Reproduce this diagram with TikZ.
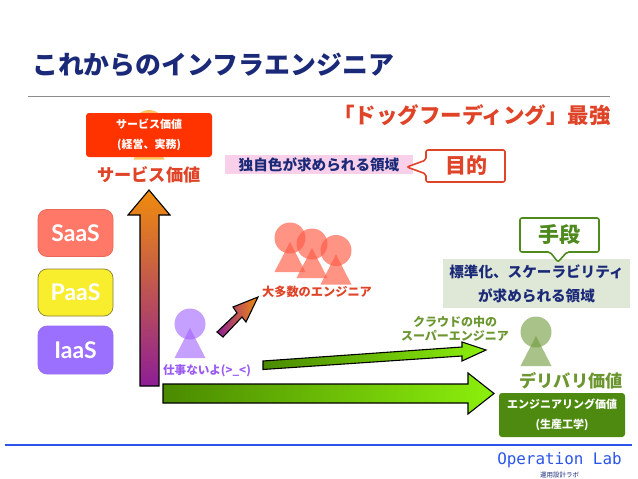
\documentclass[tikz,border=0pt]{standalone}
\usepackage{fontspec}
\setmainfont{Noto Sans CJK JP}
\newfontfamily\gillfont{Lato}
\setmonofont{DejaVu Sans Mono}
\usetikzlibrary{calc,positioning}
\definecolor{navytext}{HTML}{1B2A78}
\definecolor{redtext}{HTML}{DF4428}
\definecolor{greentext}{HTML}{6C9630}
\definecolor{opblue}{HTML}{2B55E8}
\definecolor{callgreen}{HTML}{4F8A1E}
\definecolor{darkgreen}{HTML}{4A8A00}
\definecolor{lightgreen}{HTML}{8CF00C}
\definecolor{arroworange}{HTML}{F08C0C}
\definecolor{arrowpurple}{HTML}{8E1E96}
\definecolor{purpletext}{HTML}{9A5CF0}
\definecolor{oneorange}{HTML}{FFB030}
\definecolor{onepurple}{HTML}{A060FF}
\definecolor{onered}{HTML}{FF5A44}
\definecolor{onegreen}{HTML}{6F9A3A}
\definecolor{saasfill}{HTML}{FF7868}
\definecolor{saasline}{HTML}{E8695A}
\definecolor{paasfill}{HTML}{F8EE2E}
\definecolor{paasline}{HTML}{8A8030}
\definecolor{iaasfill}{HTML}{9C70FF}
\definecolor{iaasline}{HTML}{966EF5}
\definecolor{servicered}{HTML}{FF3300}
\definecolor{delivergreen}{HTML}{4F8A10}
\definecolor{ownpink}{HTML}{F8D0EA}
\definecolor{stdgray}{HTML}{DFE8D6}
\newcommand{\fsz}[2]{\fontsize{#1}{#2}\selectfont}
\begin{document}
\begin{tikzpicture}[x=1pt,y=-1pt,
 layer box/.style={line width=.7pt,rounded corners=9pt,minimum width=75pt,minimum height=47pt,text=white,font=\gillfont\bfseries\fsz{23}{24}},
 value box/.style={rounded corners=3pt,fill=#1,text=white,align=center,inner sep=0pt,font=\bfseries\fsz{11}{20}},
 area box/.style={fill=#1,inner sep=0pt,text=navytext,align=center,font=\bfseries\fsz{14.6}{24}},
 call line/.style={draw=#1,fill=white,line width=1.6pt,rounded corners=2pt},
 block arrow/.style={draw=black,line width=1.1pt,line join=miter},
 tag/.style={inner sep=0pt,align=center,font=\bfseries\fsz{#1}{14}}]
    \useasboundingbox (0,0) rectangle (638,479);
    % title and rules
    \node (title) [anchor=west,inner sep=0pt,text=navytext,font=\bfseries\fsz{25.9}{28}] at (32,65) {これからのインフラエンジニア};
    \draw [black!45,line width=.8pt] (28,96.5) -- (610,96.5);
    \draw [opblue,line width=1.2pt] (5,445) -- (632,445);
    \node (dogfood) [inner sep=0pt,text=redtext,font=\bfseries\fsz{21.5}{24}] at (472,115) {「ドッグフーディング」最強};
    % people: circle + triangle
    \foreach \cx/\cy/\cor/\alfa in {149/125.5/oneorange/.75, 190/324/onepurple/.6, 290/238/onered/.65, 312/244/onered/.65, 336/250.5/onered/.65, 536/332/onegreen/.6} {
      \fill [\cor,opacity=\alfa] (\cx,\cy) circle (15.5);
      \fill [\cor,opacity=\alfa] (\cx,\cy+4) -- (\cx+15.5,\cy+34) -- (\cx-15.5,\cy+34) -- cycle;
    }
    % layers
    \node (saas) [layer box,draw=saasline,fill=saasfill] at (75.5,233) {SaaS};
    \node (paas) [layer box,draw=paasline,fill=paasfill] at (75.5,292.5) {PaaS};
    \node (iaas) [layer box,draw=iaasline,fill=iaasfill,minimum height=48pt] at (75.5,350) {IaaS};
    % values
    \node (servicebox) [value box=servicered,minimum width=126pt,minimum height=44pt] at (149,135) {サービス価値\\(経営、実務)};
    \node (servicetxt) [tag=17.2,text=redtext] at (149,175) {サービス価値};
    \node (delivertxt) [tag=17.2,text=greentext] at (571,381) {デリバリ価値};
    \node (deliverbox) [value box=delivergreen,minimum width=126pt,minimum height=44pt] at (562,415) {エンジニアリング価値\\(生産工学)};
    % areas
    \node (ownarea) [area box=ownpink,minimum width=188pt,minimum height=19pt] at (319,164.5) {独自色が求められる領域};
    \node (stdarea) [area box=stdgray,minimum width=187pt,minimum height=49pt] at (536.5,283.5) {標準化、スケーラビリティ\\が求められる領域};
    % callouts
    \draw [call line=redtext] (426,150) -- (505,150) -- (505,182) -- (426,182) -- (426,174) -- (407,167) -- (426,160) -- cycle;
    \node (goal) [tag=21,text=redtext] at (466,166) {目的};
    \draw [call line=callgreen] (520,218) -- (599,218) -- (599,252) -- (567,252) -- (558,262) -- (550,252) -- (520,252) -- cycle;
    \node (means) [tag=21,text=callgreen] at (559,235) {手段};
    % block arrows
    \draw [block arrow,top color=arroworange,bottom color=arrowpurple] (140,386) -- (140,215) -- (128,215) -- (149,190) -- (170,215) -- (159,215) -- (159,386) -- cycle;
    \draw [block arrow,left color=darkgreen,right color=lightgreen] (163,384) -- (468,384) -- (468,373) -- (494,393.5) -- (468,414) -- (468,403) -- (163,403) -- cycle;
    \draw [block arrow,left color=darkgreen,right color=lightgreen] (263,361) -- (462,347) -- (462,342) -- (486,350) -- (462,361) -- (462,356) -- (263,369.5) -- cycle;
    \draw [block arrow,shading=axis,shading angle=50,left color=arrowpurple,right color=arroworange] (217,332) -- (237,313) -- (233,307) -- (258,297) -- (246,322) -- (242,317) -- (223,337) -- cycle;
    % labels
    \node (most) [tag=12.2,text=redtext] at (317,292) {大多数のエンジニア};
    \node (idle) [tag=11.6,text=purpletext] at (207,371) {仕事ないよ(>\_<)};
    \node (super) [tag=12,text=greentext] at (455,328.5) {クラウドの中の\\スーパーエンジニア};
    % logo
    \node (oplab) [inner sep=0pt,text=opblue,font=\ttfamily\fsz{15.9}{18}] at (559.5,460) {Operation Lab};
    \node (oplabjp) [below=3.5pt of oplab,inner sep=0pt,text=navytext,font=\fsz{6.5}{7}] {運用設計ラボ};
\end{tikzpicture}
\end{document}
